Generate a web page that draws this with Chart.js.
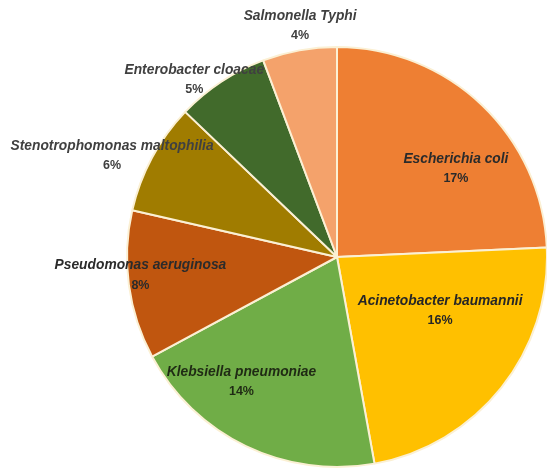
<!DOCTYPE html>
<html>
<head>
<meta charset="utf-8">
<script src="https://cdn.jsdelivr.net/npm/chart.js@4/dist/chart.umd.min.js"></script>
<style>
  html, body { margin: 0; padding: 0; background: #ffffff; overflow: hidden; }
  #wrap { position: relative; width: 547px; height: 472px; }
</style>
</head>
<body>
<div id="wrap"><canvas id="pie" width="547" height="472"></canvas></div>
<script>
// Isolated organisms and their share (%)
const organisms = [
  'Escherichia coli',
  'Acinetobacter baumannii',
  'Klebsiella pneumoniae',
  'Pseudomonas aeruginosa',
  'Stenotrophomonas maltophilia',
  'Enterobacter cloacae',
  'Salmonella Typhi'
];
const percentages = [17, 16, 14, 8, 6, 5, 4];

const sliceColors = ['#EE7F33', '#FFC000', '#70AD47', '#C0560F', '#A07C00', '#416A2B', '#F4A26B'];
const labelColors = ['#2b2b2b', '#262626', '#1f2a14', '#2b2b2b', '#404040', '#404040', '#404040'];

// Where each label sits: fraction along the slice's sweep, and distance as a fraction of the radius
const labelPlacement = [
  { along: 0.61, dist: 0.706 },
  { along: 0.364, dist: 0.553 },
  { along: 0.664, dist: 0.747 },
  { along: 0.56, dist: 0.94 },
  { along: 0.37, dist: 1.175 },
  { along: 0.29, dist: 1.084 },
  { along: 0.56, dist: 1.116 }
];

const FONT_FAMILY = '"Liberation Sans", Arial, sans-serif';

const sliceLabels = {
  id: 'sliceLabels',
  afterDatasetsDraw(chart) {
    const ctx = chart.ctx;
    const meta = chart.getDatasetMeta(0);
    meta.data.forEach((arc, i) => {
      const { x, y, startAngle, endAngle, outerRadius } =
        arc.getProps(['x', 'y', 'startAngle', 'endAngle', 'outerRadius'], true);
      const p = labelPlacement[i];
      const a = startAngle + (endAngle - startAngle) * p.along;
      const r = outerRadius * p.dist;
      const cx = x + Math.cos(a) * r;
      const cy = y + Math.sin(a) * r;
      ctx.save();
      ctx.textAlign = 'center';
      ctx.textBaseline = 'middle';
      ctx.fillStyle = labelColors[i];
      ctx.font = 'italic bold 13.8px ' + FONT_FAMILY;
      ctx.fillText(organisms[i], cx, cy - 9.5);
      ctx.font = 'bold 12.5px ' + FONT_FAMILY;
      ctx.fillText(percentages[i] + '%', cx, cy + 10);
      ctx.restore();
    });
  }
};

new Chart(document.getElementById('pie'), {
  type: 'pie',
  data: {
    labels: organisms,
    datasets: [{
      data: percentages,
      backgroundColor: sliceColors,
      borderColor: '#FBF0D4',
      borderWidth: 2,
      hoverOffset: 0,
      radius: 210
    }]
  },
  options: {
    responsive: false,
    animation: false,
    events: [],
    layout: { padding: { left: 127, top: 42, right: 0, bottom: 0 } },
    plugins: {
      legend: { display: false },
      tooltip: { enabled: false }
    }
  },
  plugins: [sliceLabels]
});
</script>
</body>
</html>
